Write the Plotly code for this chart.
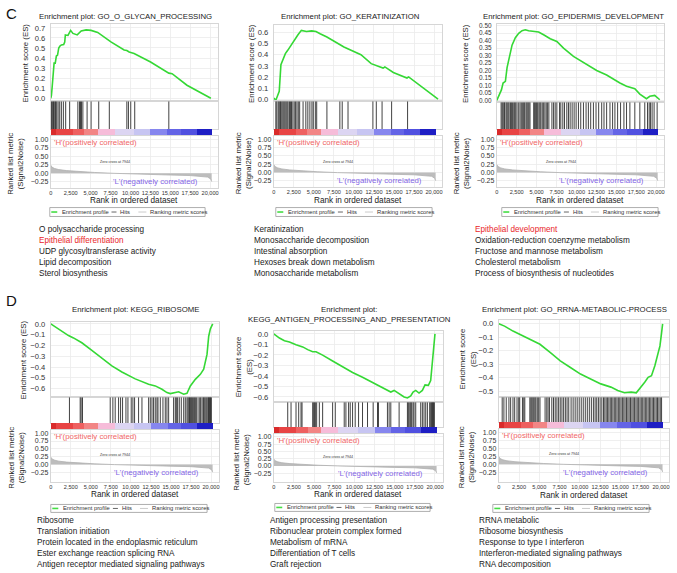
import plotly.graph_objects as go

W, H = 677, 573
FONT = "Liberation Sans, Arial, sans-serif"

# ---------------- data ----------------
titles = [
    "Enrichment plot: GO_O_GLYCAN_PROCESSING",
    "Enrichment plot: GO_KERATINIZATION",
    "Enrichment plot: GO_EPIDERMIS_DEVELOPMENT",
    "Enrichment plot: KEGG_RIBOSOME",
    "Enrichment plot:<br>KEGG_ANTIGEN_PROCESSING_AND_PRESENTATION",
    "Enrichment plot: GO_RRNA-METABOLIC-PROCESS",
]

# running enrichment score curves (rank, ES)
c1_rank = [0, 80, 166, 300, 415, 560, 700, 850, 1000, 1150, 1330, 1620, 1750, 1830, 2160, 2490, 2780, 3320, 3600, 3820,
           4440, 5060, 5890, 7550, 9210, 9550, 9840, 10460, 12530, 14820, 15230, 17100, 20100]
c1_es = [0, 0.03, 0.105, 0.22, 0.35, 0.35, 0.42, 0.43, 0.50, 0.52, 0.53, 0.535, 0.56, 0.63, 0.625, 0.675, 0.645, 0.63,
         0.65, 0.67, 0.68, 0.675, 0.655, 0.56, 0.48, 0.475, 0.46, 0.445, 0.36, 0.25, 0.245, 0.13, 0.0]

c2_rank = [0, 255, 470, 680, 890, 1100, 1445, 1740, 2170, 2590, 3020, 3440, 4080, 4720, 5270, 5780, 6630, 8755, 10880,
           12155, 13005, 13640, 13860, 14920, 16620, 16830, 20500]
c2_es = [0.01, -0.01, 0.03, 0.07, 0.31, 0.35, 0.41, 0.44, 0.49, 0.53, 0.58, 0.62, 0.61, 0.615, 0.61, 0.59, 0.56, 0.47,
         0.40, 0.32, 0.30, 0.28, 0.29, 0.24, 0.19, 0.20, 0.0]

c3_rank = [0, 580, 790, 1080, 1290, 1625, 1915, 2330, 2750, 3170, 3580, 4000, 4625, 5250, 5875, 6710, 7540, 8375, 9625,
           11290, 12540, 13790, 14625, 15460, 16290, 17330, 17960, 18790, 19210, 19830, 20460]
c3_es = [0, 0.07, 0.116, 0.127, 0.22, 0.29, 0.37, 0.42, 0.45, 0.467, 0.473, 0.467, 0.462, 0.458, 0.44, 0.413, 0.395,
         0.35, 0.295, 0.24, 0.20, 0.17, 0.14, 0.116, 0.094, 0.078, 0.042, 0.011, 0.027, 0.033, 0.004]

d1_rank = [0, 960, 2210, 2830, 3875, 5125, 6375, 7625, 8875, 10540, 12210, 13040, 13875, 14500, 14920, 15330, 15960,
           16585, 17000, 17420, 18040, 18670, 19085, 19500, 19710, 19920, 20210]
d1_es = [0, -0.05, -0.108, -0.13, -0.175, -0.246, -0.32, -0.39, -0.446, -0.51, -0.56, -0.575, -0.606, -0.637, -0.646,
         -0.637, -0.63, -0.652, -0.643, -0.575, -0.514, -0.468, -0.42, -0.283, -0.114, -0.046, 0.0]

d2_rank = [0, 700, 1320, 1940, 2760, 3590, 4210, 4825, 5240, 6060, 7300, 8540, 9775, 11010, 12250, 13070, 13900, 14520,
           14930, 15550, 16170, 16580, 16990, 17280, 17610, 18020, 18435, 18765, 19180, 19465, 19755, 20000]
d2_es = [0, -0.04, -0.065, -0.078, -0.103, -0.124, -0.15, -0.171, -0.171, -0.202, -0.258, -0.314, -0.367, -0.413,
         -0.46, -0.497, -0.522, -0.553, -0.538, -0.569, -0.60, -0.61, -0.59, -0.553, -0.538, -0.563, -0.538, -0.485,
         -0.49, -0.445, -0.21, 0.0]

d3_rank = [0, 710, 1750, 3000, 4250, 5080, 6330, 7585, 8835, 10080, 11330, 12585, 13830, 14670, 15500, 16330, 16960,
           17380, 18000, 18420, 18835, 19250, 19670, 19880, 20085, 20210]
d3_es = [0, -0.017, -0.054, -0.09, -0.127, -0.152, -0.213, -0.275, -0.324, -0.373, -0.41, -0.446, -0.47, -0.495,
         -0.512, -0.507, -0.512, -0.483, -0.434, -0.397, -0.385, -0.311, -0.2, -0.164, -0.066, 0.0]

# gene-set hit positions (rank)
c1_hits = [80, 200, 330, 415, 540, 620, 750, 920, 1120, 1330, 1580, 1870, 2370, 3400, 3610, 3730, 3860, 4030, 4560,
           5060, 6020, 7350, 9550, 9750, 10040, 10540, 14820]
c2_hits = [255, 380, 555, 680, 810, 890, 1020, 1150, 1275, 1400, 1530, 1660, 1785, 1955, 2080, 2210, 2380, 2550, 2720,
           2890, 3060, 3230, 3655, 4000, 4250, 4505, 4760, 4930, 5185, 5355, 6630, 8245, 8540, 9265, 12370, 12795,
           13515, 14705, 16700]
c3_hits = [540, 670, 790, 920, 1000, 1170, 1290, 1420, 1540, 1710, 1830, 1960, 2130, 2250, 2380, 2540, 2750, 2920,
           3080, 3250, 3380, 3500, 3670, 3790, 3920, 4040, 4170, 4630, 4750, 4880, 5000, 5130, 5290, 5420, 5540, 5710,
           5880, 6040, 6210, 6380, 6540, 6920, 7130, 7330, 7540, 7880, 8040, 8290, 8500, 8790, 9000, 9210, 9460, 9710,
           9960, 10250, 10540, 10880, 11210, 11500, 11790, 12130, 12460, 12790, 13170, 13460, 13790, 14210, 14540,
           14830, 15170, 15540, 15960, 16290, 16710, 17330, 17960, 18580, 18920, 19130, 19290, 19500, 19750, 20130]
d1_hits = [2330, 3670, 3790, 3960, 7420, 7750, 8040, 8460, 8710, 8960, 9380, 9630, 10040, 10250, 10460, 10960, 11380,
           12210, 12420, 12630, 12830, 13040, 13250, 13380, 13670, 14000, 14290, 14500, 14710, 15330, 15540, 15670,
           15830, 16040, 16290, 16590, 16790, 17000, 17130, 17250, 17330, 17460, 17540, 17670, 17790, 17920, 18040,
           18170, 18380, 18590, 18710, 18880, 19040, 19130, 19250, 19380, 19500, 19630, 19710, 19790, 19880, 19960,
           20040]
d2_hits = [1730, 2140, 2760, 3090, 3380, 3505, 4825, 4950, 5070, 5155, 5320, 5650, 6060, 7300, 7630, 8740, 8950, 9280,
           9485, 9775, 10100, 10520, 11010, 11630, 12330, 12870, 12990, 14100, 14310, 14520, 15550, 16580, 16700,
           16870, 16990, 17110, 17280, 17400, 17610, 18230, 18435, 18640, 18850, 19060, 19340, 19470, 19590, 19670,
           19755, 19840, 19920]
d3_hits = [420, 630, 920, 1250, 1460, 1750, 1960, 2250, 2460, 2580, 2920, 3080, 3210, 3830, 3960, 4080, 4210, 4330,
           4460, 4580, 4750, 4920, 5080, 5710, 5920, 6080, 6250, 6540, 6750, 6960, 7170, 7380, 7580, 7790, 8000, 8210,
           8420, 8630, 8920, 9170, 9420, 9670, 9920, 10170, 10420, 10670, 10920, 11170, 11420, 11670, 11880, 12080,
           12290, 12500, 12710, 12920, 13080, 13250, 13420, 13580, 13750, 13920, 14080, 14250, 14420, 14580, 14750,
           14920, 15080, 15250, 15420, 15580, 15750, 15920, 16080, 16250, 16420, 16580, 16750, 16920, 17080, 17250,
           17420, 17580, 17750, 17920, 18080, 18250, 18420, 18580, 18750, 18920, 19080, 19250, 19420, 19580, 19750,
           19920, 20080]

# ranked list metric (signal2noise), shared by all panels
metric_rank = [0, 150, 500, 1000, 2000, 3500, 5500, 7944, 10000, 12500, 15000, 17500, 19000, 19700, 20100, 20200]
metric_val = [0.24, 0.18, 0.14, 0.11, 0.08, 0.05, 0.025, 0.0, -0.02, -0.035, -0.05, -0.065, -0.085, -0.11, -0.17,
              -0.24]

# colour strip of the ranked list
strip_edges = [0, 700, 2800, 4200, 5900, 8000, 10400, 12500, 14600, 16300, 18300, 20200]
strip_colors = ["#d92b2b", "#e84444", "#ee6060", "#f28585", "#f6bcd9", "#dcd5f2", "#c7c5f2", "#8686ee", "#6464e6",
                "#5050e0", "#1e1ec4"]

es_ticks_c1 = [0, 0.1, 0.2, 0.3, 0.4, 0.5, 0.6, 0.7]
es_ticks_c2 = [0, 0.1, 0.2, 0.3, 0.4, 0.5, 0.6]
es_ticks_c3 = [0, 0.05, 0.1, 0.15, 0.2, 0.25, 0.3, 0.35, 0.4, 0.45, 0.5]
es_ticks_d1 = [0, -0.1, -0.2, -0.3, -0.4, -0.5, -0.6]
es_ticks_d2 = [0, -0.1, -0.2, -0.3, -0.4, -0.5, -0.6]
es_ticks_d3 = [0, -0.1, -0.2, -0.3, -0.4, -0.5]
metric_ticks = [1.0, 0.75, 0.5, 0.25, 0.0, -0.25]
rank_ticks = [0, 2500, 5000, 7500, 10000, 12500, 15000, 17500, 20000]

items_c1 = ["O polysaccharide processing", "Epithelial differentiation", "UDP glycosyltransferase activity",
            "Lipid decomposition", "Sterol biosynthesis"]
items_c2 = ["Keratinization", "Monosaccharide decomposition", "Intestinal absorption",
            "Hexoses break down metabolism", "Monosaccharide metabolism"]
items_c3 = ["Epithelial development", "Oxidation-reduction coenzyme metabolism", "Fructose and mannose metabolism",
            "Cholesterol metabolism", "Process of biosynthesis of nucleotides"]
items_d1 = ["Ribosome", "Translation initiation", "Protein located in the endoplasmic reticulum",
            "Ester exchange reaction splicing RNA", "Antigen receptor mediated signaling pathways"]
items_d2 = ["Antigen processing presentation", "Ribonuclear protein complex formed", "Metabolism of mRNA",
            "Differentiation of T cells", "Graft rejection"]
items_d3 = ["RRNA metabolic", "Ribosome biosynthesis", "Response to type I interferon",
            "Interferon-mediated signaling pathways", "RNA decomposition"]

# ---------------- layout (pixel geometry) ----------------
panels = [
    dict(es_x=c1_rank, es_y=c1_es, hits=c1_hits, ticks=es_ticks_c1, fmt=".1f", items=items_c1, red=1,
         x0=49, x1=217, es=(22, 100), hi=(100, 128), cb=(128, 135), rk=(135, 187), es_rng=[-0.03, 0.74],
         rk_rng=[-0.42, 1.09], title_xy=(124.5, 15), es_tdx=-25, es_two=False, rk_tdx=-35, rank_y=200,
         leg=(48, 207, 156, 9), list_x=35, list_y=229, es_tf=7.6),
    dict(es_x=c2_rank, es_y=c2_es, hits=c2_hits, ticks=es_ticks_c2, fmt=".1f", items=items_c2, red=None,
         x0=273, x1=442, es=(23, 100), hi=(100, 128), cb=(128, 135), rk=(135, 186), es_rng=[-0.02, 0.67],
         rk_rng=[-0.42, 1.09], title_xy=(350, 15), es_tdx=-23, es_two=False, rk_tdx=-31, rank_y=200,
         leg=(275, 207, 157, 9), list_x=251, list_y=229, es_tf=7.6),
    dict(es_x=c3_rank, es_y=c3_es, hits=c3_hits, ticks=es_ticks_c3, fmt=".2f", items=items_c3, red=0,
         x0=497, x1=665, es=(22, 101), hi=(101, 128), cb=(128, 135), rk=(135, 186), es_rng=[-0.013, 0.513],
         rk_rng=[-0.42, 1.09], title_xy=(574, 15), es_tdx=-32, es_two=False, rk_tdx=-36, rank_y=200,
         leg=(502, 207, 157, 9), list_x=473, list_y=229, es_tf=6.4),
    dict(es_x=d1_rank, es_y=d1_es, hits=d1_hits, ticks=es_ticks_d1, fmt=".1f", items=items_d1, red=None,
         x0=49, x1=218, es=(322, 398), hi=(398, 424), cb=(424, 431), rk=(431, 483), es_rng=[-0.68, 0.02],
         rk_rng=[-0.54, 1.1], title_xy=(134, 310), es_tdx=-27, es_two=False, rk_tdx=-34, rank_y=496,
         leg=(49, 506, 157, 8), list_x=33, list_y=522, es_tf=7.6),
    dict(es_x=d2_rank, es_y=d2_es, hits=d2_hits, ticks=es_ticks_d2, fmt=".1f", items=items_d2, red=None,
         x0=273, x1=443, es=(331, 403), hi=(403, 428), cb=(428, 435), rk=(435, 483), es_rng=[-0.65, 0.03],
         rk_rng=[-0.54, 1.1], title_xy=(349, 315), es_tdx=-30, es_two=True, rk_tdx=-32, rank_y=496,
         leg=(274, 505, 156, 8), list_x=267, list_y=522, es_tf=7.6),
    dict(es_x=d3_rank, es_y=d3_es, hits=d3_hits, ticks=es_ticks_d3, fmt=".1f", items=items_d3, red=None,
         x0=499, x1=670, es=(320, 398), hi=(398, 423), cb=(423, 430), rk=(430, 483), es_rng=[-0.545, 0.03],
         rk_rng=[-0.54, 1.1], title_xy=(575, 310), es_tdx=-31, es_two=True, rk_tdx=-33, rank_y=497,
         leg=(493, 506, 157, 8), list_x=477, list_y=522, es_tf=7.6),
]

X_RANGE = [0, 21000]
GREEN = "#35d835"
FRAME = "#d6d6d6"
GRID = "#ebebeb"


def px(x):
    return x / W


def py(y):
    return 1 - y / H


def nm(i):
    return "" if i == 1 else str(i)


fig = go.Figure()
annotations = []
shapes = []
layout_axes = {}

for p_i, p in enumerate(panels):
    base = p_i * 4 + 1
    i_es, i_hi, i_cb, i_rk = base, base + 1, base + 2, base + 3
    xd = [px(p["x0"]), px(p["x1"])]

    def dom(t, b):
        return [py(b), py(t)]

    common_x = dict(domain=xd, range=X_RANGE, showticklabels=False, zeroline=False, fixedrange=True)
    # ES axis
    layout_axes["xaxis" + nm(i_es)] = dict(common_x, anchor="y" + nm(i_es), showgrid=True, gridcolor=GRID,
                                           gridwidth=0.8, tickvals=rank_ticks, showline=True, mirror=True,
                                           linecolor=FRAME, linewidth=1)
    layout_axes["yaxis" + nm(i_es)] = dict(domain=dom(*p["es"]), anchor="x" + nm(i_es), range=p["es_rng"],
                                           tickvals=p["ticks"], tickformat=p["fmt"], showgrid=True,
                                           gridcolor=GRID, gridwidth=0.8, zeroline=False, showline=True,
                                           mirror=True, linecolor=FRAME, linewidth=1, ticks="outside",
                                           ticklen=3, tickcolor="rgba(0,0,0,0)",
                                           tickfont=dict(size=p["es_tf"], color="#333", family=FONT))
    # hits axis
    layout_axes["xaxis" + nm(i_hi)] = dict(common_x, anchor="y" + nm(i_hi), showgrid=False, showline=True,
                                           mirror=True, linecolor=FRAME, linewidth=1)
    layout_axes["yaxis" + nm(i_hi)] = dict(domain=dom(*p["hi"]), anchor="x" + nm(i_hi), range=[0, 1],
                                           showticklabels=False, showgrid=False, zeroline=False,
                                           showline=True, mirror=True, linecolor=FRAME, linewidth=1)
    # colour strip axis
    layout_axes["xaxis" + nm(i_cb)] = dict(common_x, anchor="y" + nm(i_cb), showgrid=False, showline=False)
    layout_axes["yaxis" + nm(i_cb)] = dict(domain=dom(*p["cb"]), anchor="x" + nm(i_cb), range=[0, 1],
                                           showticklabels=False, showgrid=False, zeroline=False, showline=False)
    # ranked metric axis
    layout_axes["xaxis" + nm(i_rk)] = dict(domain=xd, range=X_RANGE, anchor="y" + nm(i_rk), tickvals=rank_ticks,
                                           tickformat=",d", tickangle=0, showgrid=True, gridcolor=GRID,
                                           gridwidth=0.8, zeroline=False, showline=True, mirror=True,
                                           linecolor=FRAME, linewidth=1,
                                           tickfont=dict(size=5.6, color="#333", family=FONT))
    layout_axes["yaxis" + nm(i_rk)] = dict(domain=dom(*p["rk"]), anchor="x" + nm(i_rk), range=p["rk_rng"],
                                           tickvals=metric_ticks, tickformat=".2f", showgrid=True,
                                           gridcolor=GRID, gridwidth=0.8, zeroline=False, showline=True,
                                           mirror=True, linecolor=FRAME, linewidth=1,
                                           tickfont=dict(size=7.0, color="#333", family=FONT))

    # traces
    fig.add_trace(go.Scatter(x=p["es_x"], y=p["es_y"], mode="lines", line=dict(color=GREEN, width=1.6),
                             xaxis="x" + nm(i_es), yaxis="y" + nm(i_es), hoverinfo="skip"))
    hx, hy = [], []
    for h in p["hits"]:
        hx += [h, h, None]
        hy += [0, 1, None]
    fig.add_trace(go.Scatter(x=hx, y=hy, mode="lines", line=dict(color="#111", width=0.8),
                             xaxis="x" + nm(i_hi), yaxis="y" + nm(i_hi), hoverinfo="skip"))
    centers = [(a + b) / 2 for a, b in zip(strip_edges[:-1], strip_edges[1:])]
    widths = [b - a for a, b in zip(strip_edges[:-1], strip_edges[1:])]
    fig.add_trace(go.Bar(x=centers, y=[1] * len(centers), width=widths, marker=dict(color=strip_colors, line_width=0),
                         xaxis="x" + nm(i_cb), yaxis="y" + nm(i_cb), hoverinfo="skip"))
    fig.add_trace(go.Scatter(x=metric_rank, y=metric_val, mode="lines", fill="tozeroy", fillcolor="#bdbdbd",
                             line=dict(color="#b0b0b0", width=0.8), xaxis="x" + nm(i_rk), yaxis="y" + nm(i_rk),
                             hoverinfo="skip"))

    cx = (p["x0"] + p["x1"]) / 2
    # title
    tx, ty = p["title_xy"]
    annotations.append(dict(text=titles[p_i], x=px(tx), y=py(ty), xref="paper", yref="paper",
                            showarrow=False, xanchor="center", yanchor="middle",
                            font=dict(size=7.8, color="#222", family=FONT)))
    # ES axis title
    es_mid = (p["es"][0] + p["es"][1]) / 2
    es_txt = "Enrichment score<br>(ES)" if p["es_two"] else "Enrichment score (ES)"
    annotations.append(dict(text=es_txt, x=px(p["x0"] + p["es_tdx"]), y=py(es_mid), xref="paper", yref="paper",
                            showarrow=False, textangle=-90, xanchor="center", yanchor="middle",
                            font=dict(size=7.8, color="#222", family=FONT)))
    # ranked axis title
    rk_mid = (p["rk"][0] + p["rk"][1]) / 2 + 2
    annotations.append(dict(text="Ranked list metric<br>(Signal2Noise)", x=px(p["x0"] + p["rk_tdx"]), y=py(rk_mid),
                            xref="paper", yref="paper", showarrow=False, textangle=-90, xanchor="center",
                            yanchor="middle", font=dict(size=7.8, color="#222", family=FONT)))
    # x axis title
    annotations.append(dict(text="Rank in ordered dataset", x=px(cx), y=py(p["rank_y"]), xref="paper",
                            yref="paper", showarrow=False, xanchor="center", yanchor="middle",
                            font=dict(size=8.2, color="#222", family=FONT)))
    # H / L labels and zero cross
    annotations.append(dict(text="'H'(positively correlated)", x=0, y=p["rk_rng"][1], xref="x" + nm(i_rk),
                            yref="y" + nm(i_rk), showarrow=False, xanchor="left", yanchor="top", xshift=1,
                            font=dict(size=7.8, color="#f06666", family=FONT)))
    annotations.append(dict(text="'L'(negatively correlated)", x=18700, y=-0.25, xref="x" + nm(i_rk),
                            yref="y" + nm(i_rk), showarrow=False, xanchor="right", yanchor="middle",
                            font=dict(size=7.8, color="#8466e6", family=FONT)))
    annotations.append(dict(text="Zero cross at 7944", x=8000, y=0.32, xref="x" + nm(i_rk),
                            yref="y" + nm(i_rk), showarrow=False, xanchor="center", yanchor="middle",
                            font=dict(size=3.6, color="#333", family=FONT)))
    # legend box (drawn)
    lx, ly, lw, lh = p["leg"]
    s = lw / 156.0
    shapes.append(dict(type="rect", xref="paper", yref="paper", x0=px(lx), x1=px(lx + lw), y0=py(ly + lh),
                       y1=py(ly), line=dict(color="#9a9a9a", width=0.8), fillcolor="white"))
    ym = ly + lh / 2
    for (a, b, col, wd, tx2, label) in [(1.5, 7.5, "#44dd44", 1.6, 10, "Enrichment profile"),
                                        (62, 67, "#555", 0.9, 69, "Hits"),
                                        (89, 97, "#c4c4c4", 0.9, 99, "Ranking metric scores")]:
        shapes.append(dict(type="line", xref="paper", yref="paper", x0=px(lx + a * s), x1=px(lx + b * s),
                           y0=py(ym), y1=py(ym), line=dict(color=col, width=wd)))
        annotations.append(dict(text=label, x=px(lx + tx2 * s), y=py(ym), xref="paper", yref="paper",
                                showarrow=False, xanchor="left", yanchor="middle",
                                font=dict(size=5.8, color="#333", family=FONT)))
    # list of terms
    for k, item in enumerate(p["items"]):
        annotations.append(dict(text=item, x=px(p["list_x"]), y=py(p["list_y"] + 11 * k), xref="paper",
                                yref="paper", showarrow=False, xanchor="left", yanchor="middle",
                                font=dict(size=8.2, color="#e8262b" if p["red"] == k else "#1a1a1a",
                                          family=FONT)))

# panel letters
annotations.append(dict(text="C", x=px(2), y=py(12), xref="paper", yref="paper", showarrow=False,
                        xanchor="left", yanchor="middle", font=dict(size=15, color="#111", family=FONT)))
annotations.append(dict(text="D", x=px(2), y=py(301), xref="paper", yref="paper", showarrow=False,
                        xanchor="left", yanchor="middle", font=dict(size=15, color="#111", family=FONT)))

fig.update_layout(
    width=W, height=H, margin=dict(l=0, r=0, t=0, b=0), paper_bgcolor="white", plot_bgcolor="white",
    showlegend=False, bargap=0, annotations=annotations, shapes=shapes, font=dict(family=FONT),
    hovermode=False, **layout_axes,
)

fig.write_html("out.html", config={"displayModeBar": False, "staticPlot": True},
               post_script="document.body.style.margin='0px';document.body.style.padding='0px';")
